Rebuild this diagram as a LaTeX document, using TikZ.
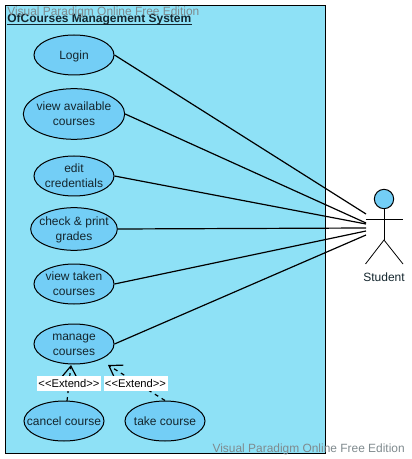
\documentclass[tikz,border=0pt]{standalone}
\usepackage{fontspec}
\setmainfont{Liberation Sans}
\usetikzlibrary{shapes.geometric,arrows.meta}
\definecolor{sysfill}{HTML}{8EE1F6}
\definecolor{ucfill}{HTML}{73CEF6}
\definecolor{inktext}{HTML}{14262E}
\definecolor{wmark}{HTML}{7F8A8E}
\newcommand{\uctext}[1]{\raisebox{-0.68em}{\smash{\makebox[0pt]{\begin{tabular}{@{}c@{}}#1\end{tabular}}}}}
\tikzset{
 px/.style={x=0.75pt,y=-0.75pt},
 usecase/.style={draw=black,fill=ucfill,ellipse,inner sep=0pt,text=inktext,font=\fontsize{9}{11.2}\selectfont,line width=0.75pt},
 assoc/.style={draw=black,line width=0.9pt},
 extendline/.style={draw=black,line width=0.9pt,dashed,dash pattern=on 3pt off 3pt,-{Straight Barb[length=9pt,width=12pt,line width=0.9pt]}},
 extendlabel/.style={fill=white,inner sep=1pt,font=\fontsize{8.4}{10}\selectfont,text=black,minimum height=11pt},
 watermark/.style={text=wmark,font=\fontsize{8.95}{11}\selectfont,inner sep=0pt},
 actorline/.style={draw=black,line width=0.6pt},
}
\begin{document}
\begin{tikzpicture}[px]
\useasboundingbox (0,0) rectangle (411,459);
\path[draw=black,fill=sysfill,line width=0.75pt] (5.5,5.5) rectangle (325.5,453);
\node[anchor=base west,inner sep=0pt,font=\fontsize{9}{11}\bfseries\selectfont,text=inktext] (title) at (7,22.5) {OfCourses Management System};
\draw[draw=inktext,line width=0.75pt] ([yshift=-1.4pt]title.base west) -- ([yshift=-1.4pt]title.base east);
\node[usecase,minimum width=60pt,minimum height=30pt] (login) at (74,55) {\uctext{Login}};
\node[usecase,minimum width=76pt,minimum height=38pt] (avail) at (74,114) {\uctext{view available\\courses}};
\node[usecase,minimum width=60pt,minimum height=30pt] (edit) at (74,176) {\uctext{edit\\credentials}};
\node[usecase,minimum width=65pt,minimum height=32pt] (grades) at (74,229) {\uctext{check \& print\\grades}};
\node[usecase,minimum width=60pt,minimum height=30pt] (taken) at (74,284) {\uctext{view taken\\courses}};
\node[usecase,minimum width=60pt,minimum height=30pt] (manage) at (74,344) {\uctext{manage\\courses}};
\node[usecase,minimum width=60pt,minimum height=30pt] (cancel) at (64,421) {\uctext{cancel course}};
\node[usecase,minimum width=60pt,minimum height=30pt] (take) at (165,421) {\uctext{take course}};
% actor
\node[circle,draw=black,fill=ucfill,line width=0.75pt,minimum size=14.5pt,inner sep=0pt] (head) at (384,199) {};
\coordinate (hip) at (384,240);
\coordinate (armL) at (365.5,219);
\coordinate (armR) at (403,219);
\coordinate (legL) at (365.5,264);
\coordinate (legR) at (403,264);
\draw[actorline] (head.south) -- (hip);
\draw[actorline] (armL) -- (armR);
\draw[actorline] (legL) -- (hip) -- (legR);
\node[font=\fontsize{9}{11}\selectfont,text=inktext,inner sep=0pt] (student) at (384,277) {Student};
% association ends
\coordinate (e1) at (366,214);
\coordinate (e2) at (366,223);
\coordinate (e3) at (366,224);
\coordinate (e4) at (366,228);
\coordinate (e5) at (366,231);
\coordinate (e6) at (366,235);
\draw[assoc] (login.east) -- (e1);
\draw[assoc] (avail.east) -- (e2);
\draw[assoc] (edit.east) -- (e3);
\draw[assoc] (grades.east) -- (e4);
\draw[assoc] (taken.east) -- (e5);
\draw[assoc] (manage.east) -- (e6);
% extends
\coordinate (tipa) at (71,365);
\coordinate (tipb) at (108,365);
\coordinate (starta) at (67,401);
\draw[extendline] (starta) -- (tipa);
\draw[extendline] (take.north) -- (tipb);
\node[extendlabel,text width=46pt,align=center] (exa) at (69,383.5) {<{}<Extend>{}>};
\node[extendlabel,text width=46pt,align=center] (exb) at (135.5,383.5) {<{}<Extend>{}>};
% watermarks
\node[watermark,anchor=west] (wa) at (7,12) {Visual Paradigm Online Free Edition};
\node[watermark,anchor=east] (wb) at (405,449.5) {Visual Paradigm Online Free Edition};
\end{tikzpicture}
\end{document}
